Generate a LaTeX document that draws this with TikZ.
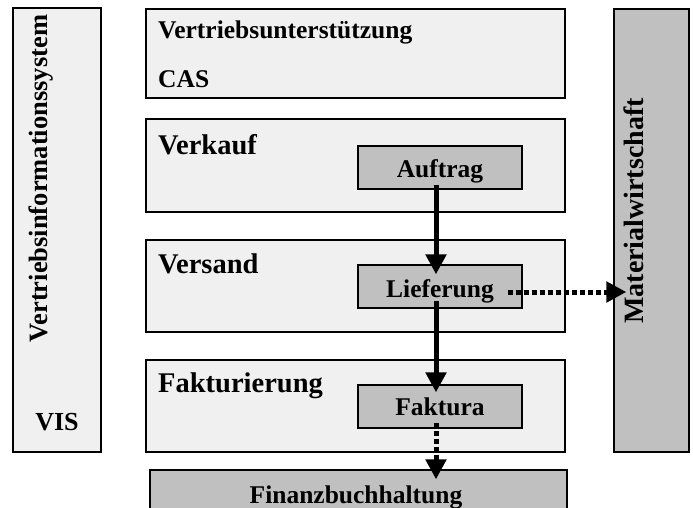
\documentclass[tikz,border=0pt]{standalone}
\usepackage{fontspec}
\setmainfont{Liberation Serif}
\usetikzlibrary{arrows.meta}
\definecolor{panelgray}{HTML}{F0F0F0}
\definecolor{modulegray}{HTML}{C0C0C0}
\begin{document}
\begin{tikzpicture}[x=1pt,y=-1pt,
  panel/.style={draw=black, line width=1.3pt, fill=panelgray, inner sep=0pt},
  module/.style={draw=black, line width=1.3pt, fill=modulegray, inner sep=0pt},
  lbl/.style={inner sep=0pt, font=\bfseries\fontsize{#1}{#1}\selectfont},
  flow/.style={line width=5pt, -{Triangle[width=20pt,length=20pt]}},
  dotflow/.style={flow, dash pattern=on 5pt off 3pt},
]
\useasboundingbox (0,0) rectangle (693,507);
\fill[white] (0,0) rectangle (693,507);
\clip (0,0) rectangle (693,507);

% side columns
\node[panel,  minimum width=88pt, minimum height=444pt] (vis) at (57,230) {};
\node[module, minimum width=75pt, minimum height=443pt] (mat) at (651.5,230.5) {};

% sales layers
\node[panel, minimum width=419pt, minimum height=89pt] (cas)     at (355.5,53.5) {};
\node[panel, minimum width=419pt, minimum height=93pt] (verkauf) at (355.5,165.5) {};
\node[panel, minimum width=419pt, minimum height=92pt] (versand) at (355.5,286) {};
\node[panel, minimum width=419pt, minimum height=92pt] (fakt)    at (355.5,406) {};

% documents
\node[module, minimum width=164pt, minimum height=43pt] (auftrag)   at (440,167.5) {};
\node[module, minimum width=164pt, minimum height=43pt] (lieferung) at (440,286.5) {};
\node[module, minimum width=164pt, minimum height=43pt] (faktura)   at (440,406.5) {};
\node[module, minimum width=417pt, minimum height=50pt] (finanz)    at (358.5,495) {};

% labels
\node[lbl=26.5, rotate=90, anchor=base] (tvis) at (47,178.5) {Vertriebsinformationssystem};
\node[lbl=26, anchor=base] (tvis2) at (57,430) {VIS};
\node[lbl=28, rotate=90, anchor=base] (tmat) at (643,211) {Materialwirtschaft};
\node[lbl=25.5, anchor=base west] (tcas1) at (158,38) {Vertriebsunterstützung};
\node[lbl=25.5, anchor=base west] (tcas2) at (158,87) {CAS};
\node[lbl=28.5, anchor=base west] (tverkauf) at (158,154) {Verkauf};
\node[lbl=28.5, anchor=base west] (tversand) at (158,273) {Versand};
\node[lbl=28.5, anchor=base west] (tfakt) at (158,392) {Fakturierung};
\node[lbl=25.5, anchor=base] (tauftrag) at (440,177) {Auftrag};
\node[lbl=25.5, anchor=base] (tlief) at (440,297) {Lieferung};
\node[lbl=25.5, anchor=base] (tfaktura) at (440,415) {Faktura};
\node[lbl=25.5, anchor=base] (tfinanz) at (356,503) {Finanzbuchhaltung};

% entry points of the outgoing flows
\coordinate (finin) at (faktura.south |- finanz.north);
\coordinate (matin) at (mat.west |- lieferung.east);

% document flow
\draw[flow] ([xshift=-4pt,yshift=5pt]auftrag.south) -- ([xshift=-4pt,yshift=-10pt]lieferung.north);
\draw[flow] ([xshift=-4pt,yshift=8pt]lieferung.south) -- ([xshift=-4pt,yshift=-8pt]faktura.north);
\draw[dotflow] ([xshift=-4pt,yshift=6pt]faktura.south) -- ([xshift=-4pt,yshift=-10pt]finin);
\draw[dotflow] ([xshift=-15pt,yshift=-5.5pt]lieferung.east) -- ([xshift=13pt,yshift=-5.5pt]matin);
\end{tikzpicture}
\end{document}
